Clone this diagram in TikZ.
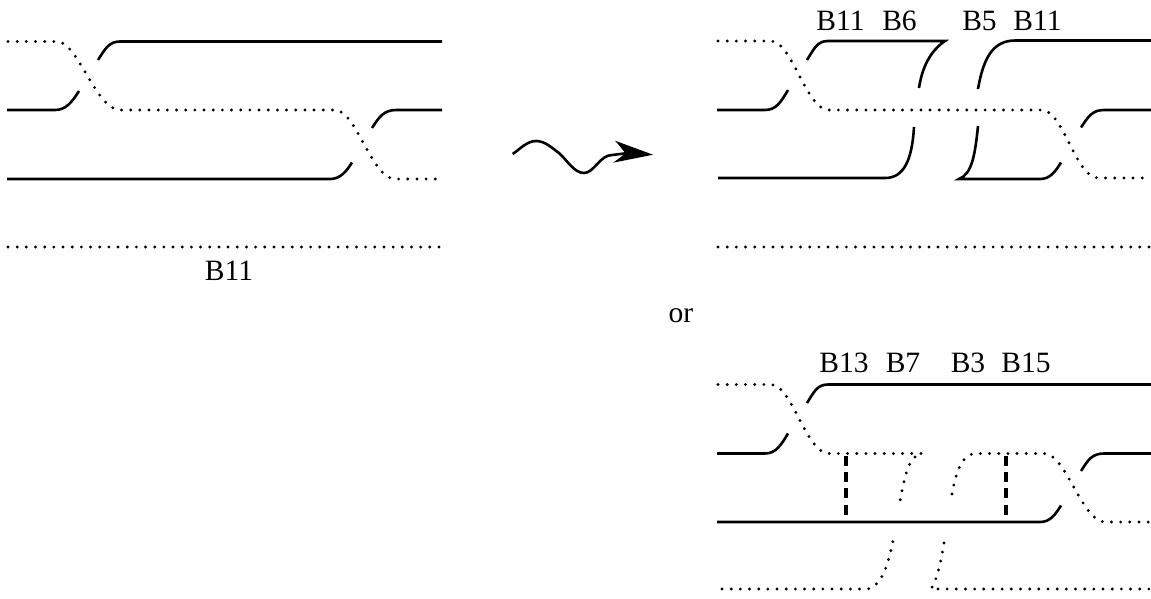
\documentclass[tikz,border=0pt]{standalone}
\usepackage{fontspec}
\setmainfont{Liberation Serif}
\begin{document}
\begin{tikzpicture}[x=1pt,y=-1pt,
  strand/.style={line width=2.6pt,black},
  dotstrand/.style={line width=3.2pt,black,line cap=round,dash pattern=on 0pt off 9.17pt},
  dashstrand/.style={line width=3.2pt,black,dash pattern=on 10pt off 6.2pt},
  lbl/.style={inner sep=0pt,anchor=base,font=\fontsize{29.5}{30}\selectfont}]
\useasboundingbox (0,0) rectangle (1151,598);
% left panel
\draw[dotstrand] (8,41.5) -- (57,41.5) .. controls (78,41.5) and (96,110) .. (120,110) -- (335,110) .. controls (356,110) and (372,179) .. (395,179) -- (440,179);
\draw[strand] (98,60) .. controls (105,49) and (109,41.5) .. (120,41.5) -- (442,41.5);
\draw[strand] (7,110) -- (55,110) .. controls (66,110) and (72,102) .. (79,91);
\draw[strand] (7,179) -- (330,179) .. controls (340,179) and (346,172) .. (352,162.5);
\draw[strand] (372,128) .. controls (379,117) and (384,110) .. (396,110) -- (442,110);
\draw[dotstrand] (8,247) -- (443,247);
\node[lbl] (bleft) at (229,280) {B11};
% squiggle arrow
\draw[line width=2.6pt] (512.7,154) .. controls (520,149) and (527,141) .. (536,141) .. controls (545,141) and (552,148) .. (559,153) .. controls (567,160) and (574,173) .. (584,173) .. controls (594,173) and (600,155) .. (612,155) -- (628,153);
\fill (615,140.7) -- (653,154.7) -- (613,162.7) .. controls (618,159) and (622,157) .. (625,152.7) .. controls (622,149) and (619,145) .. (615,140.7) -- cycle;
% right top panel
\draw[dotstrand] (718,41) -- (771,41) .. controls (792,41) and (806,110) .. (829,110) -- (1042,110) .. controls (1063,110) and (1076,178) .. (1098,178) -- (1151,178);
\draw[strand] (807,60) .. controls (814,49) and (817,41) .. (828,41) -- (945,41) .. controls (930,51) and (922,68) .. (919,88);
\draw[strand] (717,110) -- (765,110) .. controls (776,110) and (781,102) .. (788,90);
\draw[strand] (718,178) -- (885,178) .. controls (904,178) and (912,160) .. (914,127);
\draw[strand] (978,89) .. controls (983,60) and (992,40.5) .. (1015,40.5) -- (1151,40.5);
\draw[strand] (978,126) .. controls (975,155) and (972,174) .. (959,179) -- (1040,179) .. controls (1050,179) and (1055,172) .. (1061,162.5);
\draw[strand] (1081,127.5) .. controls (1088,117) and (1092,110) .. (1104,110) -- (1151,110);
\draw[dotstrand] (718,247) -- (1151,247);
\node[lbl] (ta) at (840.5,30) {B11};
\node[lbl] (tb) at (899.5,30) {B6};
\node[lbl] (tc) at (979.5,30) {B5};
\node[lbl] (td) at (1037.5,30) {B11};
\node[lbl] (orlabel) at (681,322) {or};
% right bottom panel
\draw[dotstrand] (718,384.5) -- (771,384.5) .. controls (792,384.5) and (806,453.5) .. (829,453.5) -- (923,453.5);
\draw[dotstrand] (915,457) .. controls (907,464) and (904,480) .. (900,501);
\draw[dotstrand] (952,494) .. controls (956,472) and (962,453.5) .. (976,453.5) -- (1044,453.5) .. controls (1066,453.5) and (1082,522) .. (1105,522) -- (1151,522);
\draw[strand] (807,403) .. controls (814,392) and (817,384.5) .. (828,384.5) -- (1151,384.5);
\draw[strand] (717,453.5) -- (765,453.5) .. controls (776,453.5) and (781,445) .. (788,433.5);
\draw[strand] (717,522) -- (1040,522) .. controls (1050,522) and (1055,515) .. (1061,505.5);
\draw[strand] (1081,471) .. controls (1088,460) and (1092,453.5) .. (1104,453.5) -- (1151,453.5);
\draw[dashstrand] (846,456) -- (846,520);
\draw[dashstrand] (1006,456) -- (1006,520);
\draw[dotstrand] (722,589) -- (868,589) .. controls (882,585) and (888,565) .. (893,541);
\draw[dotstrand] (944,543) .. controls (941,560) and (938,578) .. (931,589) -- (1151,589);
\node[lbl] (ba) at (844,372.5) {B13};
\node[lbl] (bb) at (903,372.5) {B7};
\node[lbl] (bc) at (968,372.5) {B3};
\node[lbl] (bd) at (1026,372.5) {B15};
\end{tikzpicture}
\end{document}
